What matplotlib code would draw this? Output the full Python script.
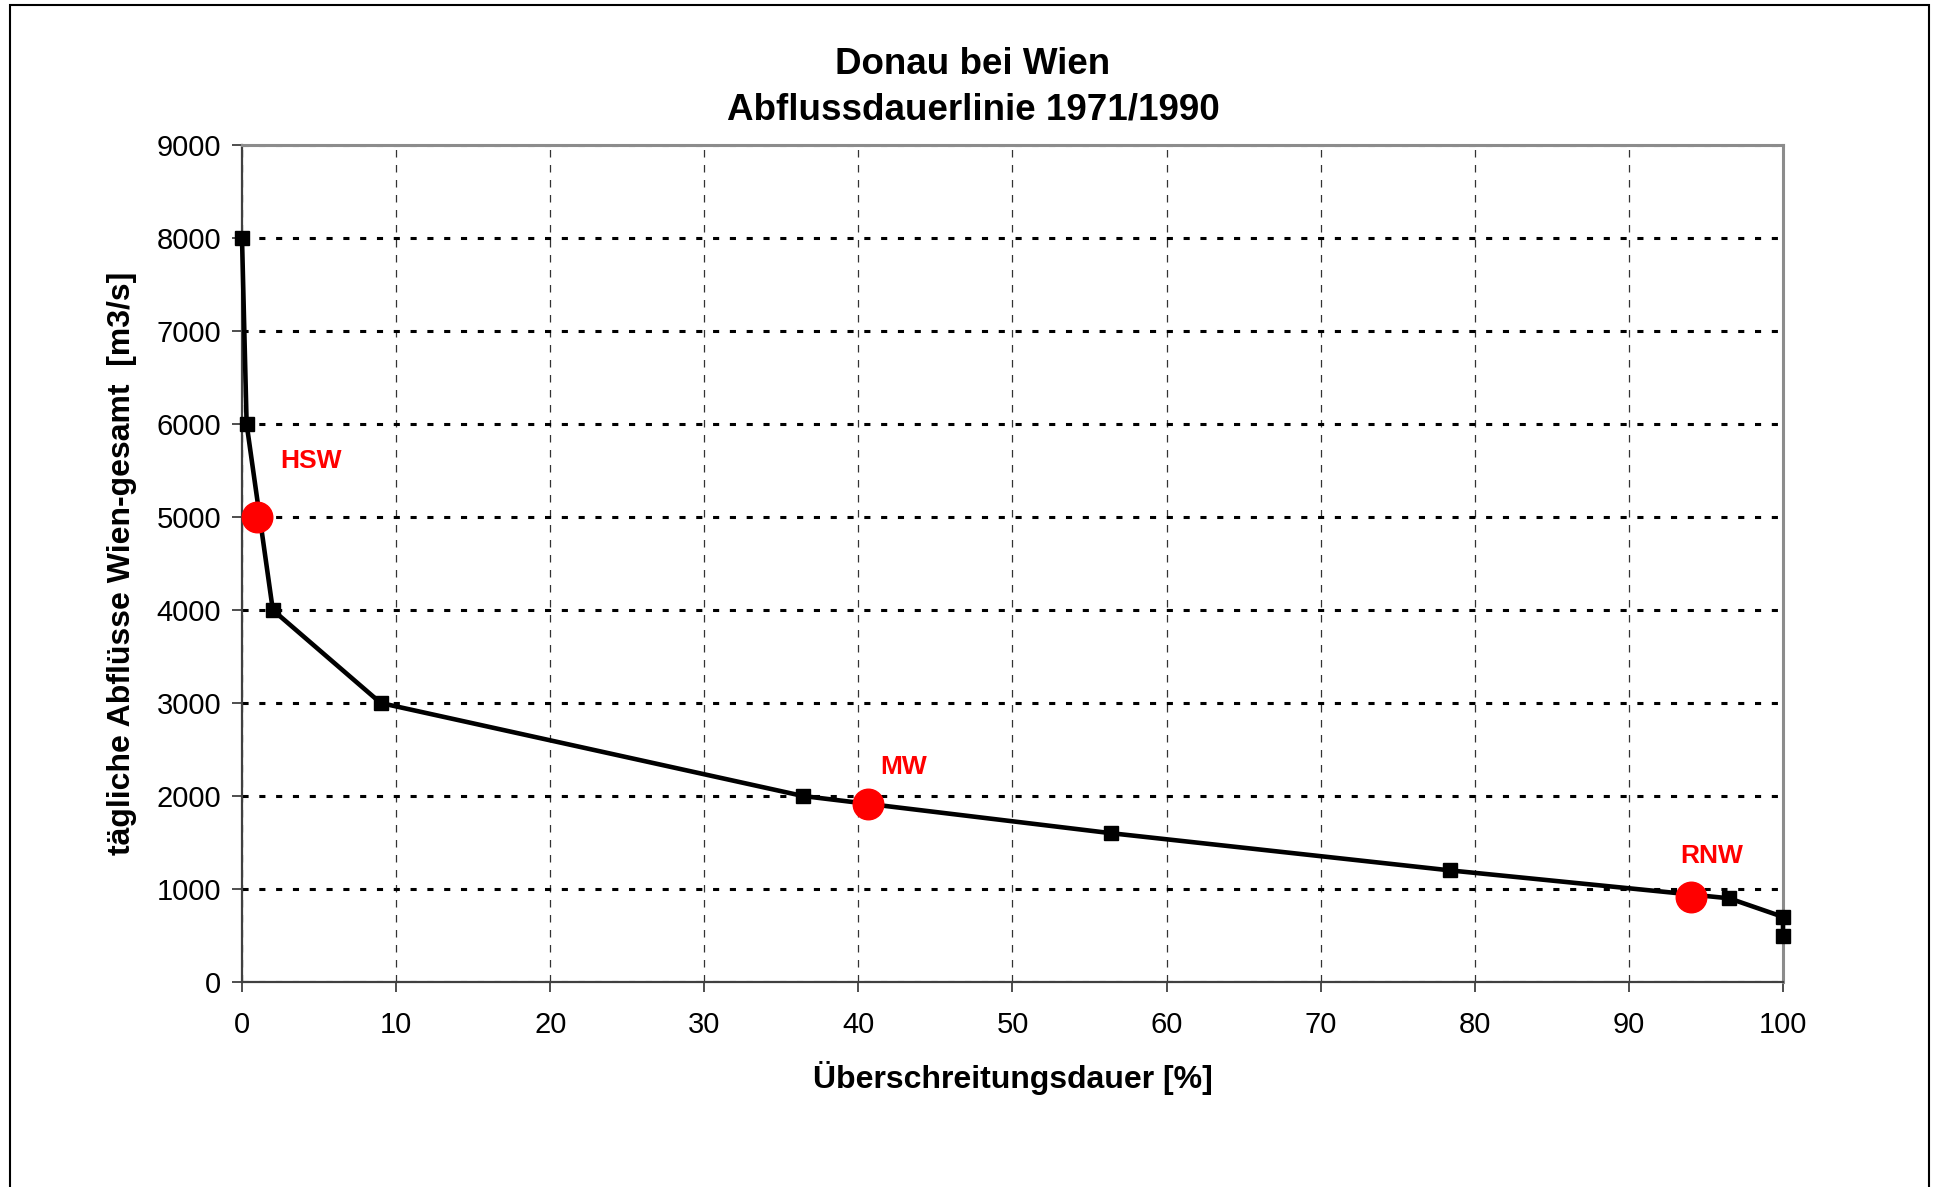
import matplotlib.pyplot as plt
from matplotlib.patches import Rectangle

plt.rcParams['font.family'] = ['Liberation Sans', 'DejaVu Sans']

# Abflussdauerlinie (Ueberschreitungsdauer in %, Abfluss in m3/s)
dauer = [0.0, 0.3, 2.0, 9.0, 36.4, 56.4, 78.4, 96.5, 100.0, 100.0]
abfluss = [8000, 6000, 4000, 3000, 2000, 1600, 1200, 900, 700, 500]

# charakteristische Wasserstaende
kenn_namen = ['HSW', 'MW', 'RNW']
kenn_dauer = [1.0, 40.6, 94.0]
kenn_abfluss = [5000, 1915, 910]
label_offset = [(1.5, 600), (0.8, 400), (-0.7, 450)]

x_ticks = list(range(0, 101, 10))
y_ticks = list(range(0, 9001, 1000))

fig = plt.figure(figsize=(19.34, 11.87), dpi=100)
fig.patches.append(Rectangle((10 / 1934, -0.1), 1919 / 1934, 1.1 - 5 / 1187,
                             transform=fig.transFigure, fill=False,
                             edgecolor='black', linewidth=1.5))

ax = fig.add_axes([242 / 1934, 1 - 982 / 1187, (1783 - 242) / 1934, (982 - 145) / 1187])
ax.set_xlim(0, 100)
ax.set_ylim(0, 9000)
ax.set_xticks(x_ticks)
ax.set_yticks(y_ticks)

ax.grid(axis='y', color='black', linestyle=(0, (2, 3.5)), linewidth=2.2)
ax.grid(axis='x', color='#333333', linestyle=(0, (6, 6)), linewidth=0.9)
ax.set_axisbelow(True)

for side in ['top', 'right']:
    ax.spines[side].set_color('#8c8c8c')
    ax.spines[side].set_linewidth(2.2)
for side in ['left', 'bottom']:
    ax.spines[side].set_color('#404040')
    ax.spines[side].set_linewidth(1.6)

ax.tick_params(axis='both', direction='out', length=7, width=1.3, color='#404040',
               labelsize=21)
ax.tick_params(axis='x', pad=14)
ax.tick_params(axis='y', pad=8)

ax.plot(dauer, abfluss, color='black', linewidth=3.3, marker='s', markersize=9.5,
        clip_on=False, zorder=3)
ax.plot(kenn_dauer, kenn_abfluss, linestyle='none', marker='o', color='#ff0000',
        markersize=22, clip_on=False, zorder=4)

for name, x, y, off in zip(kenn_namen, kenn_dauer, kenn_abfluss, label_offset):
    ax.text(x + off[0], y + off[1], name, color='#ff0000', fontsize=19,
            fontweight='bold', ha='left', va='center')

# Titel mittig im Diagrammbereich
fig.text(973 / 1934, 1 - 64 / 1187, 'Donau bei Wien', fontsize=26.5, fontweight='bold',
         ha='center', va='center')
fig.text(973 / 1934, 1 - 110 / 1187, 'Abflussdauerlinie 1971/1990', fontsize=26.5,
         fontweight='bold', ha='center', va='center')
ax.set_xlabel('Überschreitungsdauer [%]', fontsize=23, fontweight='bold', labelpad=16)
ax.set_ylabel('tägliche Abflüsse Wien-gesamt  [m3/s]', fontsize=23,
              fontweight='bold', labelpad=14)

fig.savefig('out.png', dpi=100)
